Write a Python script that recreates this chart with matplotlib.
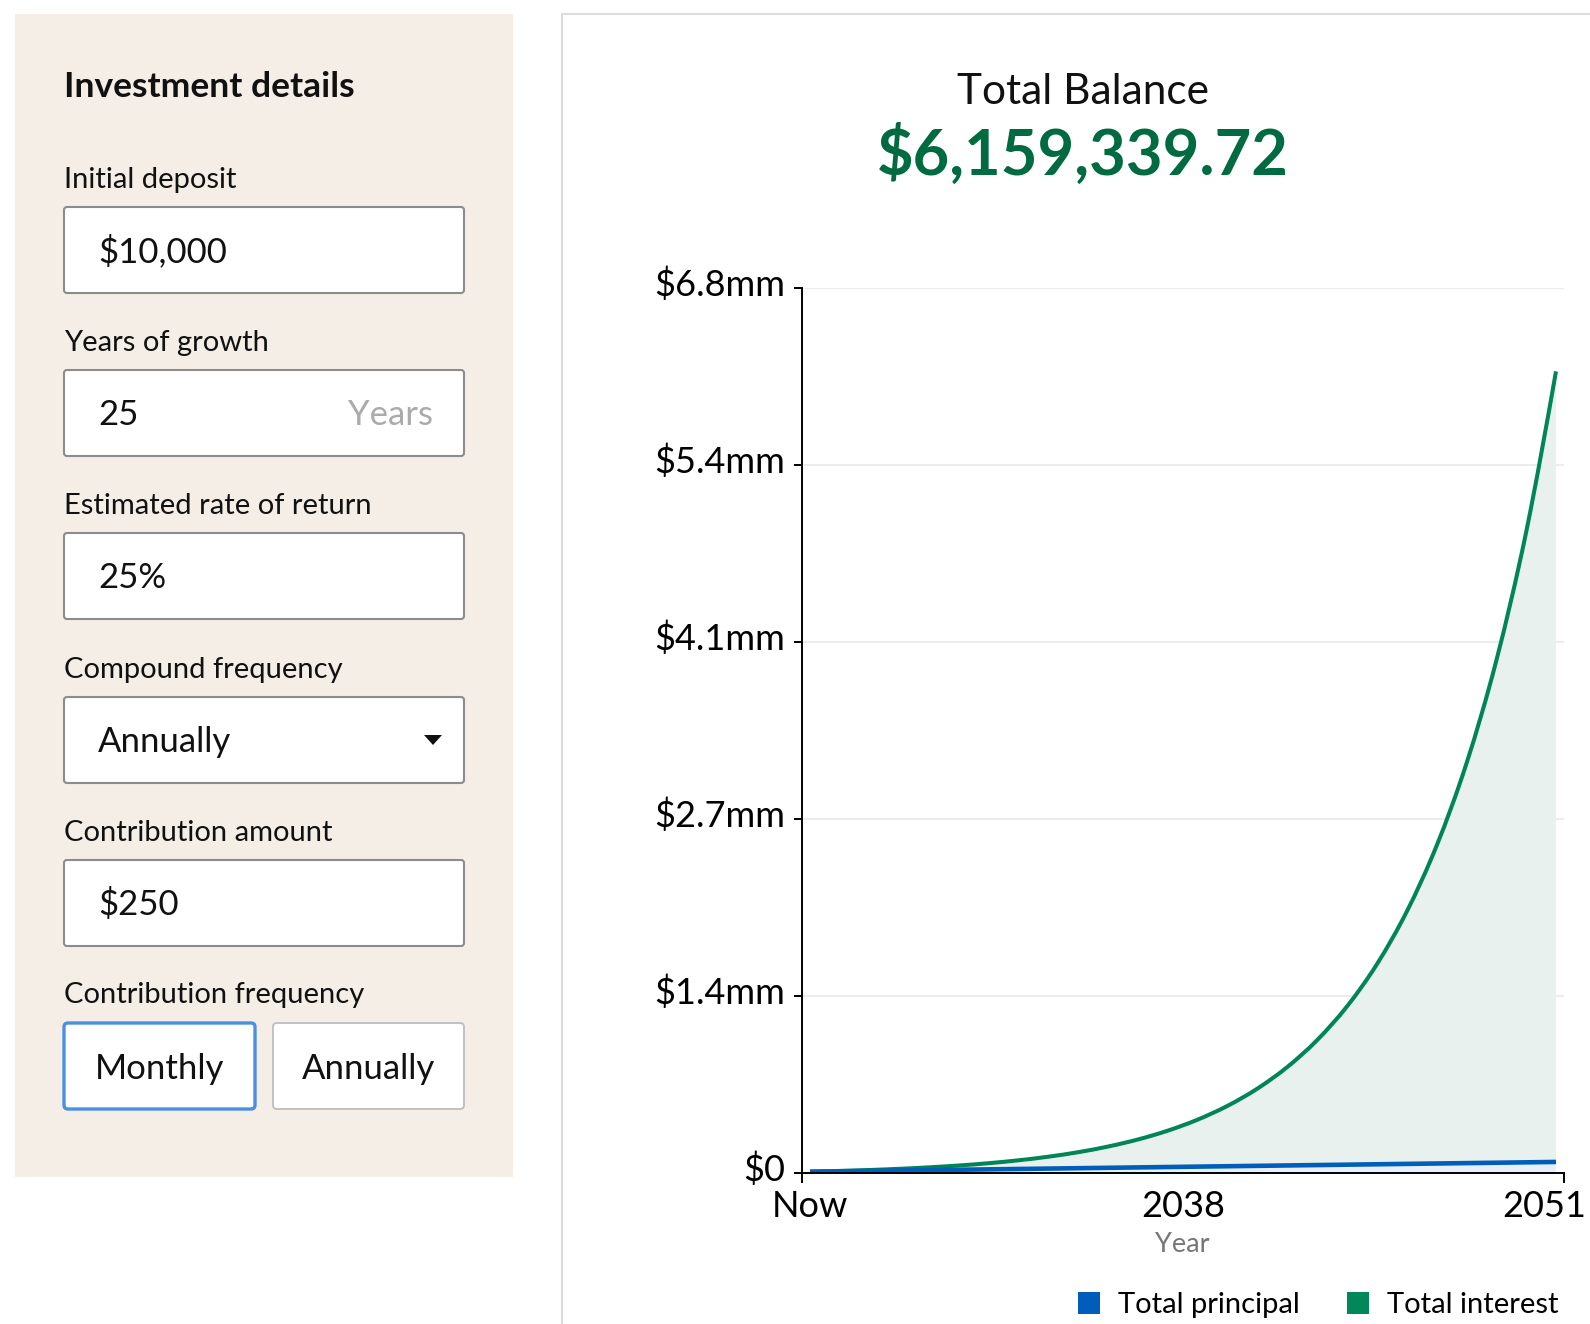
import matplotlib
matplotlib.use("Agg")
import matplotlib.pyplot as plt
import matplotlib.transforms as mtransforms
from matplotlib.patches import FancyBboxPatch, Rectangle, Polygon, Patch, PathPatch
from matplotlib.path import Path

plt.rcParams['font.family'] = ['Lato', 'DejaVu Sans']

# ---- data ----
year_offset = [0, 1, 2, 3, 4, 5, 6, 7, 8, 9, 10, 11, 12,
               13, 14, 15, 16, 17, 18, 19, 20, 21, 22, 23, 24, 25]
total_balance = [10000, 15830, 23118, 32227, 43614, 57848, 75640, 97880,
                 125680, 160430, 203868, 258165, 326036, 410875, 516924,
                 649485, 815186, 1022313, 1281221, 1604856, 2009400,
                 2515080, 3147180, 3937305, 4924961, 6159340]
total_principal = [10000, 13000, 16000, 19000, 22000, 25000, 28000, 31000,
                   34000, 37000, 40000, 43000, 46000, 49000, 52000, 55000,
                   58000, 61000, 64000, 67000, 70000, 73000, 76000, 79000,
                   82000, 85000]
y_ticks = [0, 1360000, 2720000, 4080000, 5440000, 6800000]
y_tick_labels = ["$0", "$1.4mm", "$2.7mm", "$4.1mm", "$5.4mm", "$6.8mm"]
x_ticks = [0, 12.5, 25]
x_tick_labels = ["Now", "2038", "2051"]

form_labels = ["Initial deposit", "Years of growth", "Estimated rate of return",
               "Compound frequency", "Contribution amount"]
form_values = ["$10,000", "25", "25%", "Annually", "$250"]
freq_buttons = ["Monthly", "Annually"]


def sign(v):
    return (v > 0) - (v < 0)


def monotone_path(xs, ys):
    # cubic segments like d3.curveMonotoneX
    n = len(xs)
    slopes = [(ys[i + 1] - ys[i]) / (xs[i + 1] - xs[i]) for i in range(n - 1)]
    tang = [0.0] * n
    for i in range(1, n - 1):
        h0 = xs[i] - xs[i - 1]
        h1 = xs[i + 1] - xs[i]
        s0, s1 = slopes[i - 1], slopes[i]
        p = (s0 * h1 + s1 * h0) / (h0 + h1)
        tang[i] = (sign(s0) + sign(s1)) * min(abs(s0), abs(s1), 0.5 * abs(p))
    tang[0] = (3 * slopes[0] - tang[1]) / 2
    tang[-1] = (3 * slopes[-1] - tang[-2]) / 2
    verts = [(xs[0], ys[0])]
    codes = [Path.MOVETO]
    for i in range(n - 1):
        h = (xs[i + 1] - xs[i]) / 3
        verts += [(xs[i] + h, ys[i] + h * tang[i]),
                  (xs[i + 1] - h, ys[i + 1] - h * tang[i + 1]),
                  (xs[i + 1], ys[i + 1])]
        codes += [Path.CURVE4] * 3
    return verts, codes


W, H = 1590, 1324
fig = plt.figure(figsize=(W / 100, H / 100), dpi=100)
fig.patch.set_facecolor('white')

# ---- page layer (pixel coords) ----
bg = fig.add_axes([0, 0, 1, 1])
bg.set_xlim(0, W)
bg.set_ylim(H, 0)
bg.axis('off')

bg.add_patch(Rectangle((15, 14), 498, 1163, fc='#F4EEE7', ec='none'))
bg.text(64, 97, "Investment details", fontsize=25.5, fontweight='bold',
        color='#111111', va='baseline')

row_tops = [207, 370, 533, 697, 860]
for lab, val, top in zip(form_labels, form_values, row_tops):
    bg.text(64, top - 19, lab, fontsize=21, color='#111111', va='baseline')
    bg.add_patch(FancyBboxPatch((64, top), 400, 86,
                                boxstyle="round,pad=0,rounding_size=3",
                                fc='white', ec='#8c8c8c', lw=1.5))
    bg.text(98, top + 55, val, fontsize=25, color='#111111', va='baseline')

# "Years" suffix and dropdown arrow
bg.text(433, row_tops[1] + 55, "Years", fontsize=25, color='#ababab',
        ha='right', va='baseline')
cy = row_tops[3] + 43
bg.add_patch(Polygon([(424, cy - 5), (442, cy - 5), (433, cy + 5)],
                     closed=True, fc='#111111', ec='none'))

bg.text(64, 1003, "Contribution frequency", fontsize=21, color='#111111',
        va='baseline')
bg.add_patch(FancyBboxPatch((64, 1023), 191, 86,
                            boxstyle="round,pad=0,rounding_size=4",
                            fc='white', ec='#4a90e2', lw=2.4))
bg.add_patch(FancyBboxPatch((273, 1023), 191, 86,
                            boxstyle="round,pad=0,rounding_size=4",
                            fc='white', ec='#bdbdbd', lw=1.3))
bg.text(159.5, 1079, freq_buttons[0], fontsize=25, color='#111111',
        ha='center', va='baseline')
bg.text(368.5, 1079, freq_buttons[1], fontsize=25, color='#111111',
        ha='center', va='baseline')

# chart card border
bg.plot([562, 562, W], [H, 14, 14], color='#dcdcdc', lw=1.5)

bg.text(1083, 104, "Total Balance", fontsize=30.5, color='#111111',
        ha='center', va='baseline')
bg.text(1083, 175, "$6,159,339.72", fontsize=45.5, fontweight='bold',
        color='#006B40', ha='center', va='baseline')
bg.text(1182, 1252, "Year", fontsize=19.5, color='#777777',
        ha='center', va='baseline')

# ---- chart ----
ax = fig.add_axes([802 / W, 1 - 1173 / H, 762 / W, 885 / H])

bal_v, bal_c = monotone_path(year_offset, total_balance)
prin_back = list(zip(year_offset[::-1], total_principal[::-1]))

# principal area
prin_v = [(year_offset[0], 0)] + list(zip(year_offset, total_principal)) + \
         [(year_offset[-1], 0), (year_offset[0], 0)]
prin_c = [Path.MOVETO] + [Path.LINETO] * (len(prin_v) - 2) + [Path.CLOSEPOLY]
ax.add_patch(PathPatch(Path(prin_v, prin_c), fc='#E6EFFA', ec='none', lw=0))

# interest area between principal and balance
int_v = bal_v + prin_back + [bal_v[0]]
int_c = bal_c + [Path.LINETO] * len(prin_back) + [Path.CLOSEPOLY]
ax.add_patch(PathPatch(Path(int_v, int_c), fc='#E8F1ED', ec='none', lw=0))

# lines
ax.add_patch(PathPatch(Path(bal_v, bal_c), fc='none', ec='#008556', lw=2.9,
                       capstyle='butt'))
ax.plot(year_offset, total_principal, color='#005DBA', lw=3.3,
        solid_capstyle='butt')

ax.set_xlim(-0.268, 25.268)
ax.set_ylim(0, 6800000)
for s in ['top', 'right']:
    ax.spines[s].set_visible(False)
for s in ['left', 'bottom']:
    ax.spines[s].set_linewidth(1.4)
    ax.spines[s].set_color('black')

ax.set_yticks(y_ticks, y_tick_labels)
ax.tick_params(axis='y', length=6, width=1.4, pad=6, labelsize=26,
               colors='black')
ax.yaxis.grid(True, color='#ececec', lw=1.5)
ax.set_axisbelow(True)
up = mtransforms.ScaledTranslation(0, 6 / 100, fig.dpi_scale_trans)
for lbl in ax.get_yticklabels():
    lbl.set_transform(lbl.get_transform() + up)

ax.set_xticks(x_ticks, x_tick_labels)
ax.set_xticks([-0.268, 25.268], minor=True)
ax.tick_params(axis='x', which='major', length=0, pad=12, labelsize=26)
ax.tick_params(axis='x', which='minor', length=7, width=1.4)
last = ax.get_xticklabels()[-1]
last.set_transform(last.get_transform() +
                   mtransforms.ScaledTranslation(-12 / 100, 0, fig.dpi_scale_trans))

handles = [Patch(fc='#005DBA', ec='none', label='Total principal'),
           Patch(fc='#00875A', ec='none', label='Total interest')]
ax.legend(handles=handles, loc='center left', ncol=2, frameon=False,
          bbox_to_anchor=(1078 / W, 1 - 1305 / H), bbox_transform=fig.transFigure,
          fontsize=21, handlelength=0.76, handleheight=0.76,
          handletextpad=0.62, columnspacing=1.6, borderpad=0, borderaxespad=0)

fig.savefig('out.png', dpi=100)
